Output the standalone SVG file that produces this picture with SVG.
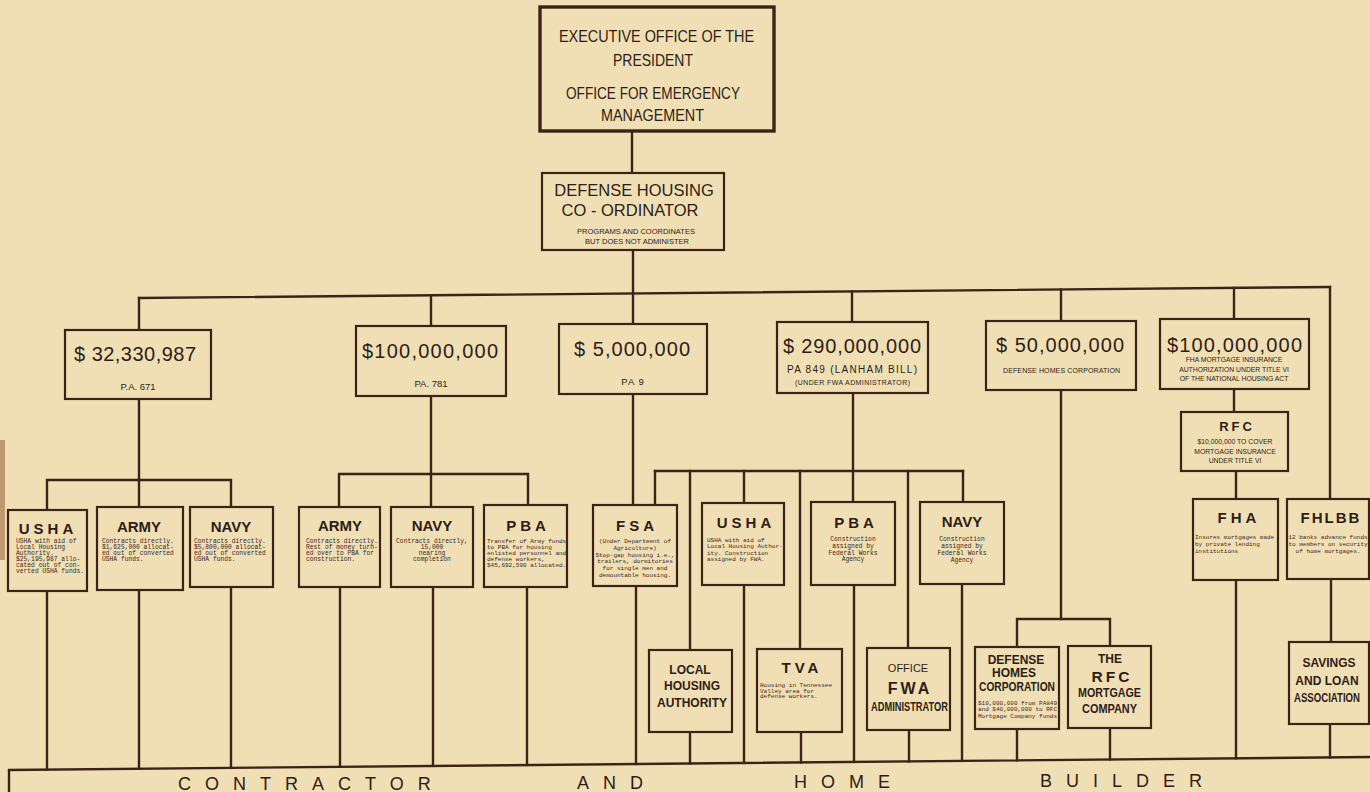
<svg xmlns="http://www.w3.org/2000/svg" width="1370" height="792" viewBox="0 0 1370 792">
<defs>
<style>
.bg{fill:#f0dfb4}
.bx{fill:#f0dfb4;stroke:#3d2317;stroke-width:2.2}
.bxt{fill:#f0dfb4;stroke:#3d2317;stroke-width:3.4}
.ln{fill:none;stroke:#3d2317;stroke-width:2.4;stroke-linecap:square}
.t{font-family:"Liberation Sans",Arial,sans-serif;fill:#2e1c14}
.c{text-anchor:middle}
.ttl{font-size:17px}
.crd{font-size:16.5px}
.m{font-size:20px}
.s{font-size:7px}
.h{font-size:15px;font-weight:bold}
.hs{font-size:12px;font-weight:bold}
.tw{font-family:"Liberation Mono","Courier New",monospace;font-size:6.3px;fill:#3a261c}
.tw6{font-family:"Liberation Mono","Courier New",monospace;font-size:6px;fill:#3a261c}
.band{font-family:"Liberation Sans",Arial,sans-serif;font-size:18px;fill:#2e1c14;letter-spacing:14px}
</style>
</defs>
<rect class="bg" x="0" y="0" width="1370" height="792"/>
<rect x="0" y="440" width="5" height="120" fill="#9a6a44" opacity="0.6"/>

<g id="connectors">
  <line class="ln" x1="632" y1="131" x2="632" y2="173"/>
  <line class="ln" x1="633" y1="250" x2="633" y2="324"/>
  <line class="ln" x1="139" y1="298" x2="1330" y2="287"/>
  <line class="ln" x1="139" y1="298" x2="139" y2="330"/>
  <line class="ln" x1="431" y1="295.3" x2="431" y2="326"/>
  <line class="ln" x1="852" y1="291.4" x2="852" y2="322"/>
  <line class="ln" x1="1061" y1="289.5" x2="1061" y2="321"/>
  <line class="ln" x1="1234" y1="287.9" x2="1234" y2="319"/>
  <line class="ln" x1="1330" y1="287" x2="1330" y2="499"/>
  <line class="ln" x1="139" y1="399" x2="139" y2="507"/>
  <polyline class="ln" points="47,510 47,480 231,480 231,507"/>
  <line class="ln" x1="431" y1="396" x2="431" y2="507"/>
  <polyline class="ln" points="339,507 339,474 528,474 528,505"/>
  <line class="ln" x1="633" y1="394" x2="633" y2="505"/>
  <line class="ln" x1="853" y1="393" x2="853" y2="502"/>
  <line class="ln" x1="655" y1="471" x2="963" y2="471"/>
  <line class="ln" x1="655" y1="471" x2="655" y2="505"/>
  <line class="ln" x1="690" y1="471" x2="690" y2="650"/>
  <line class="ln" x1="744" y1="471" x2="744" y2="503"/>
  <line class="ln" x1="800" y1="471" x2="800" y2="649"/>
  <line class="ln" x1="908" y1="471" x2="908" y2="648"/>
  <line class="ln" x1="963" y1="471" x2="963" y2="502"/>
  <line class="ln" x1="1061" y1="390" x2="1061" y2="619"/>
  <polyline class="ln" points="1017,647 1017,619 1110,619 1110,646"/>
  <line class="ln" x1="1234" y1="389" x2="1234" y2="412"/>
  <line class="ln" x1="1236" y1="471" x2="1236" y2="499"/>
  <line class="ln" x1="1331" y1="579" x2="1331" y2="642"/>
  <line class="ln" x1="47" y1="591" x2="47" y2="769.6"/>
  <line class="ln" x1="139" y1="590" x2="139" y2="768.8"/>
  <line class="ln" x1="231" y1="587" x2="231" y2="767.9"/>
  <line class="ln" x1="340" y1="587" x2="340" y2="766.8"/>
  <line class="ln" x1="433" y1="587" x2="433" y2="765.9"/>
  <line class="ln" x1="527" y1="587" x2="527" y2="765"/>
  <line class="ln" x1="636" y1="586" x2="636" y2="764"/>
  <line class="ln" x1="690" y1="732" x2="690" y2="763.5"/>
  <line class="ln" x1="744" y1="585" x2="744" y2="763"/>
  <line class="ln" x1="801" y1="732" x2="801" y2="762.4"/>
  <line class="ln" x1="854" y1="585" x2="854" y2="761.9"/>
  <line class="ln" x1="909" y1="730" x2="909" y2="761.4"/>
  <line class="ln" x1="962" y1="584" x2="962" y2="760.9"/>
  <line class="ln" x1="1017" y1="729" x2="1017" y2="760.4"/>
  <line class="ln" x1="1110" y1="728" x2="1110" y2="759.5"/>
  <line class="ln" x1="1236" y1="580" x2="1236" y2="758.3"/>
  <line class="ln" x1="1330" y1="724" x2="1330" y2="757.4"/>
</g>

<g id="top">
  <rect class="bxt" x="540" y="7" width="234" height="124"/>
  <text class="t ttl" x="559" y="42" textLength="195" lengthAdjust="spacingAndGlyphs">EXECUTIVE OFFICE OF THE</text>
  <text class="t ttl" x="613" y="66" textLength="80" lengthAdjust="spacingAndGlyphs">PRESIDENT</text>
  <text class="t ttl" x="566" y="99" textLength="174" lengthAdjust="spacingAndGlyphs">OFFICE FOR EMERGENCY</text>
  <text class="t ttl" x="601" y="121" textLength="103" lengthAdjust="spacingAndGlyphs">MANAGEMENT</text>
</g>

<g id="coordinator">
  <rect class="bx" x="542" y="173" width="182" height="77"/>
  <text class="t c crd" x="634" y="196">DEFENSE HOUSING</text>
  <text class="t c crd" x="630" y="216">CO - ORDINATOR</text>
  <text class="t c s" x="636" y="234" style="font-size:7.5px">PROGRAMS AND COORDINATES</text>
  <text class="t c s" x="637" y="244" style="font-size:7.5px">BUT DOES NOT ADMINISTER</text>
</g>

<g id="m1">
  <rect class="bx" x="65" y="330" width="146" height="69"/>
  <text class="t m" x="74" y="361" textLength="122">$ 32,330,987</text>
  <text class="t c" x="138" y="390" style="font-size:9.5px">P.A. 671</text>
</g>
<g id="m2">
  <rect class="bx" x="356" y="326" width="150" height="70"/>
  <text class="t m" x="362" y="358" textLength="136">$100,000,000</text>
  <text class="t c" x="431" y="387" style="font-size:9.5px">PA. 781</text>
</g>
<g id="m3">
  <rect class="bx" x="559" y="324" width="148" height="70"/>
  <text class="t m" x="574" y="356" textLength="116">$ 5,000,000</text>
  <text class="t c" x="633" y="385" style="font-size:9.5px;letter-spacing:1px">PA 9</text>
</g>
<g id="m4">
  <rect class="bx" x="777" y="322" width="151" height="71"/>
  <text class="t m" x="783" y="353" textLength="138">$ 290,000,000</text>
  <text class="t" x="787" y="373" textLength="130" style="font-size:10px">PA 849 (LANHAM BILL)</text>
  <text class="t" x="795" y="385" textLength="115" style="font-size:7px">(UNDER FWA ADMINISTRATOR)</text>
</g>
<g id="m5">
  <rect class="bx" x="986" y="321" width="150" height="69"/>
  <text class="t m" x="996" y="352" textLength="128">$ 50,000,000</text>
  <text class="t" x="1003" y="373" textLength="117" style="font-size:7px">DEFENSE HOMES CORPORATION</text>
</g>
<g id="m6">
  <rect class="bx" x="1160" y="319" width="149" height="70"/>
  <text class="t m" x="1167" y="352" textLength="135">$100,000,000</text>
  <text class="t c s" x="1234" y="362" style="font-size:6.8px">FHA MORTGAGE INSURANCE</text>
  <text class="t c s" x="1234" y="372" style="font-size:6.8px">AUTHORIZATION UNDER TITLE VI</text>
  <text class="t c s" x="1234" y="381" style="font-size:6.8px">OF THE NATIONAL HOUSING ACT</text>
</g>

<g id="rfc">
  <rect class="bx" x="1181" y="412" width="107" height="59"/>
  <text class="t c" x="1237" y="431" style="font-size:13px;font-weight:bold;letter-spacing:3px">RFC</text>
  <text class="t c s" x="1235" y="444" style="font-size:6.8px">$10,000,000 TO COVER</text>
  <text class="t c s" x="1235" y="454" style="font-size:6.8px">MORTGAGE INSURANCE</text>
  <text class="t c s" x="1235" y="463" style="font-size:6.8px">UNDER TITLE VI</text>
</g>

<g id="usha1">
  <rect class="bx" x="8" y="510" width="79" height="81"/>
  <text class="t c h" x="48" y="534" style="letter-spacing:4px">USHA</text>
  <text class="tw" x="16" y="543">USHA with aid of</text>
  <text class="tw" x="16" y="549">Local Housing</text>
  <text class="tw" x="16" y="555">Authority.</text>
  <text class="tw" x="16" y="561">$25,195,987 allo-</text>
  <text class="tw" x="16" y="567">cated out of con-</text>
  <text class="tw" x="16" y="573">verted USHA funds.</text>
</g>
<g id="army1">
  <rect class="bx" x="97" y="507" width="86" height="83"/>
  <text class="t c h" x="139" y="532">ARMY</text>
  <text class="tw" x="102" y="543">Contracts directly.</text>
  <text class="tw" x="102" y="549">$1,625,000 allocat-</text>
  <text class="tw" x="102" y="555">ed out of converted</text>
  <text class="tw" x="102" y="561">USHA funds.</text>
</g>
<g id="navy1">
  <rect class="bx" x="190" y="507" width="83" height="80"/>
  <text class="t c h" x="231" y="532">NAVY</text>
  <text class="tw" x="194" y="543">Contracts directly.</text>
  <text class="tw" x="194" y="549">$5,800,000 allocat-</text>
  <text class="tw" x="194" y="555">ed out of converted</text>
  <text class="tw" x="194" y="561">USHA funds.</text>
</g>

<g id="army2">
  <rect class="bx" x="299" y="507" width="81" height="80"/>
  <text class="t c h" x="340" y="531">ARMY</text>
  <text class="tw" x="306" y="543">Contracts directly.</text>
  <text class="tw" x="306" y="549">Rest of money turn-</text>
  <text class="tw" x="306" y="555">ed over to PBA for</text>
  <text class="tw" x="306" y="561">construction.</text>
</g>
<g id="navy2">
  <rect class="bx" x="391" y="507" width="82" height="80"/>
  <text class="t c h" x="432" y="531">NAVY</text>
  <text class="tw c" x="432" y="543">Contracts directly,</text>
  <text class="tw c" x="432" y="549">15,000</text>
  <text class="tw c" x="432" y="555">nearing</text>
  <text class="tw c" x="432" y="561">completion</text>
</g>
<g id="pba2">
  <rect class="bx" x="484" y="505" width="83" height="82"/>
  <text class="t c h" x="528" y="531" style="letter-spacing:4px">PBA</text>
  <text class="tw6" x="487" y="543">Transfer of Army funds</text>
  <text class="tw6" x="487" y="549">to PBA for housing</text>
  <text class="tw6" x="487" y="555">enlisted personnel and</text>
  <text class="tw6" x="487" y="561">defense workers,</text>
  <text class="tw6" x="487" y="567">$45,692,500 allocated.</text>
</g>

<g id="fsa">
  <rect class="bx" x="593" y="505" width="84" height="81"/>
  <text class="t c h" x="637" y="531" style="letter-spacing:4px">FSA</text>
  <text class="tw6 c" x="635" y="543">(Under Department of</text>
  <text class="tw6 c" x="635" y="549.5">Agriculture)</text>
  <text class="tw6 c" x="635" y="556.5">Stop-gap housing i.e.,</text>
  <text class="tw6 c" x="635" y="563">trailers, dormitories</text>
  <text class="tw6 c" x="635" y="570">for single men and</text>
  <text class="tw6 c" x="635" y="577">demountable housing.</text>
</g>
<g id="usha2">
  <rect class="bx" x="702" y="503" width="82" height="82"/>
  <text class="t c h" x="746" y="528" style="letter-spacing:4px">USHA</text>
  <text class="tw6" x="707" y="542">USHA with aid of</text>
  <text class="tw6" x="707" y="548">Local Housing Author-</text>
  <text class="tw6" x="707" y="555">ity.  Construction</text>
  <text class="tw6" x="707" y="561">assigned by FWA.</text>
</g>
<g id="pba3">
  <rect class="bx" x="811" y="502" width="84" height="83"/>
  <text class="t c h" x="856" y="528" style="letter-spacing:4px">PBA</text>
  <text class="tw c" x="853" y="541">Construction</text>
  <text class="tw c" x="853" y="548">assigned by</text>
  <text class="tw c" x="853" y="555">Federal Works</text>
  <text class="tw c" x="853" y="561">Agency</text>
</g>
<g id="navy3">
  <rect class="bx" x="920" y="502" width="84" height="82"/>
  <text class="t c h" x="962" y="527">NAVY</text>
  <text class="tw c" x="962" y="541">Construction</text>
  <text class="tw c" x="962" y="548">assigned by</text>
  <text class="tw c" x="962" y="555">Federal Works</text>
  <text class="tw c" x="962" y="562">Agency</text>
</g>

<g id="fha">
  <rect class="bx" x="1193" y="499" width="85" height="81"/>
  <text class="t c h" x="1239" y="523" style="letter-spacing:4px">FHA</text>
  <text class="tw6" x="1195" y="539">Insures mortgages made</text>
  <text class="tw6" x="1195" y="546">by private lending</text>
  <text class="tw6" x="1195" y="553">institutions</text>
</g>
<g id="fhlbb">
  <rect class="bx" x="1287" y="499" width="82" height="80"/>
  <text class="t c h" x="1331" y="523" style="letter-spacing:2px">FHLBB</text>
  <text class="tw6 c" x="1328" y="539">12 banks advance funds</text>
  <text class="tw6 c" x="1328" y="546">to members on security</text>
  <text class="tw6 c" x="1328" y="553">of home mortgages.</text>
</g>

<g id="local">
  <rect class="bx" x="649" y="650" width="83" height="82"/>
  <text class="t c hs" x="690" y="674">LOCAL</text>
  <text class="t c hs" x="692" y="690">HOUSING</text>
  <text class="t c hs" x="692" y="707">AUTHORITY</text>
</g>
<g id="tva">
  <rect class="bx" x="757" y="649" width="85" height="83"/>
  <text class="t c h" x="802" y="673" style="letter-spacing:4px">TVA</text>
  <text class="tw6" x="760" y="687">Housing in Tennessee</text>
  <text class="tw6" x="760" y="692.5">Valley area for</text>
  <text class="tw6" x="760" y="698">defense workers.</text>
</g>
<g id="fwa">
  <rect class="bx" x="867" y="648" width="83" height="82"/>
  <text class="t c" x="908" y="672" style="font-size:11px">OFFICE</text>
  <text class="t c" x="910" y="694" style="font-size:16px;font-weight:bold;letter-spacing:3px">FWA</text>
  <text class="t hs" x="871" y="711" textLength="77" lengthAdjust="spacingAndGlyphs">ADMINISTRATOR</text>
</g>
<g id="dhc">
  <rect class="bx" x="975" y="647" width="84" height="82"/>
  <text class="t c hs" x="1016" y="664">DEFENSE</text>
  <text class="t c hs" x="1014" y="677">HOMES</text>
  <text class="t hs" x="979" y="691" textLength="76" lengthAdjust="spacingAndGlyphs">CORPORATION</text>
  <text class="tw6" x="978" y="705" textLength="79" lengthAdjust="spacingAndGlyphs">$10,000,000 from PA849</text>
  <text class="tw6" x="978" y="711" textLength="79" lengthAdjust="spacingAndGlyphs">and $40,000,000 to RFC</text>
  <text class="tw6" x="978" y="718" textLength="79" lengthAdjust="spacingAndGlyphs">Mortgage Company funds</text>
</g>
<g id="rfcm">
  <rect class="bx" x="1068" y="646" width="83" height="82"/>
  <text class="t c hs" x="1110" y="663">THE</text>
  <text class="t c" x="1112" y="682" style="font-size:15.5px;font-weight:bold;letter-spacing:3px">RFC</text>
  <text class="t hs" x="1078" y="697" textLength="63" lengthAdjust="spacingAndGlyphs">MORTGAGE</text>
  <text class="t hs" x="1082" y="713" textLength="55" lengthAdjust="spacingAndGlyphs">COMPANY</text>
</g>
<g id="savings">
  <rect class="bx" x="1289" y="642" width="80" height="82"/>
  <text class="t c hs" x="1329" y="667">SAVINGS</text>
  <text class="t c hs" x="1327" y="685">AND LOAN</text>
  <text class="t hs" x="1294" y="702" textLength="66" lengthAdjust="spacingAndGlyphs">ASSOCIATION</text>
</g>

<g id="band">
  <polyline class="ln" points="9,792 9,770 1370,757"/>
  <text class="band" x="178" y="790">CONTRACTOR</text>
  <text class="band" x="577" y="789">AND</text>
  <text class="band" x="794" y="788">HOME</text>
  <text class="band" x="1040" y="787">BUILDER</text>
</g>
</svg>
